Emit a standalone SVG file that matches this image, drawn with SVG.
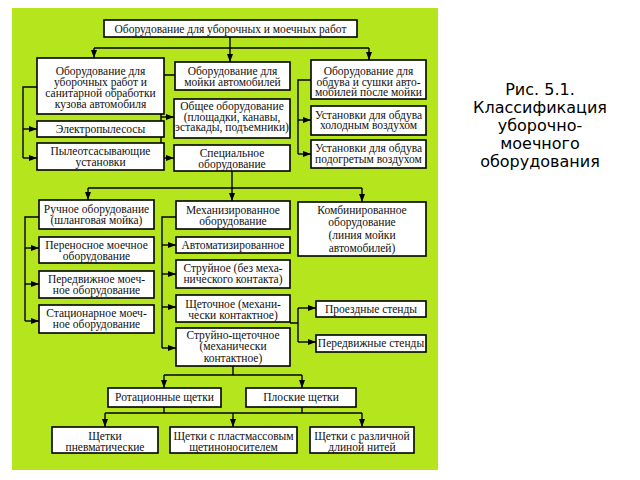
<svg xmlns="http://www.w3.org/2000/svg" width="640" height="480" viewBox="0 0 640 480">
<defs>
<style>
.bg{fill:#b5e61d}
.box{fill:#fff;stroke:#000;stroke-width:1.6}
.t{font-family:"Liberation Serif","Times New Roman",serif;font-size:11.5px;fill:#111;text-anchor:middle}
.cap{font-family:"DejaVu Sans",sans-serif;font-size:16px;fill:#000;text-anchor:middle}
.ln{fill:none;stroke:#000;stroke-width:1.4}
.ar{fill:none;stroke:#000;stroke-width:1.4;marker-end:url(#ah)}
</style>
<marker id="ah" viewBox="0 0 8 6" refX="8" refY="3" markerWidth="8" markerHeight="6" orient="auto" markerUnits="userSpaceOnUse"><path d="M0,0 L8,3 L0,6 z" fill="#000"/></marker>
</defs>
<rect class="bg" x="12" y="8" width="426" height="462"/>

<g id="connectors">
<path class="ln" d="M230,37 V48 M94,48 H369"/>
<path class="ar" d="M94,48 V58"/>
<path class="ar" d="M230,48 V62"/>
<path class="ar" d="M369,48 V60"/>
<path class="ln" d="M37,87 H23 V158"/>
<path class="ar" d="M23,129 H37"/>
<path class="ar" d="M23,158 H37"/>
<path class="ln" d="M175,75 H161 V158"/>
<path class="ar" d="M161,117 H174"/>
<path class="ar" d="M161,158 H174"/>
<path class="ln" d="M311,80 H298 V154"/>
<path class="ar" d="M298,120 H311"/>
<path class="ar" d="M298,154 H311"/>
<path class="ln" d="M232,171 V188 M88,188 H362"/>
<path class="ar" d="M88,188 V200"/>
<path class="ar" d="M232,188 V201"/>
<path class="ar" d="M362,188 V202"/>
<path class="ln" d="M39,217 H25 V321"/>
<path class="ar" d="M25,248 H39"/>
<path class="ar" d="M25,284 H39"/>
<path class="ar" d="M25,321 H39"/>
<path class="ln" d="M176,217 H162 V348"/>
<path class="ar" d="M162,245 H176"/>
<path class="ar" d="M162,274 H176"/>
<path class="ar" d="M162,307 H176"/>
<path class="ar" d="M162,348 H176"/>
<path class="ln" d="M290,323 H298 M298,308 V342"/>
<path class="ar" d="M298,308 H316"/>
<path class="ar" d="M298,342 H316"/>
<path class="ln" d="M233,366 V375 M164,375 H302"/>
<path class="ar" d="M164,375 V388"/>
<path class="ar" d="M302,375 V388"/>
<path class="ln" d="M164,407 V413 M302,407 V413 M105,413 H362"/>
<path class="ar" d="M105,413 V427"/>
<path class="ar" d="M233,413 V427"/>
<path class="ar" d="M362,413 V427"/>
</g>

<g id="n-top"><rect class="box" x="104" y="20" width="253" height="17"/><text class="t" x="230.5" y="32.5">Оборудование для уборочных и моечных работ</text></g>

<g id="n-a"><rect class="box" x="37" y="58" width="127" height="56"/>
<text class="t" x="100.5" y="74.5">Оборудование для</text>
<text class="t" x="100.5" y="85.5">уборочных работ и</text>
<text class="t" x="100.5" y="96.5">санитарной обработки</text>
<text class="t" x="100.5" y="107.5">кузова автомобиля</text></g>

<g id="n-b"><rect class="box" x="175" y="62" width="115" height="28"/>
<text class="t" x="232.5" y="74.5">Оборудование для</text>
<text class="t" x="232.5" y="85.5">мойки автомобилей</text></g>

<g id="n-c"><rect class="box" x="311" y="60" width="115" height="39"/>
<text class="t" x="368.5" y="74.5">Оборудование для</text>
<text class="t" x="368.5" y="85.5">обдува и сушки авто-</text>
<text class="t" x="368.5" y="96">мобилей после мойки</text></g>

<g id="n-vac"><rect class="box" x="37" y="121" width="127" height="16"/>
<text class="t" x="100.5" y="132.5">Электропылесосы</text></g>

<g id="n-dust"><rect class="box" x="37" y="143" width="127" height="27"/>
<text class="t" x="100.5" y="155">Пылеотсасывающие</text>
<text class="t" x="100.5" y="166">установки</text></g>

<g id="n-gen"><rect class="box" x="174" y="99" width="116" height="39"/>
<text class="t" x="232" y="110">Общее оборудование</text>
<text class="t" x="232" y="120.5">(площадки, канавы,</text>
<text class="t" x="232" y="131">эстакады, подъемники)</text></g>

<g id="n-spec"><rect class="box" x="174" y="145" width="116" height="26"/>
<text class="t" x="232" y="156.5">Специальное</text>
<text class="t" x="232" y="167.5">оборудование</text></g>

<g id="n-cold"><rect class="box" x="311" y="106" width="115" height="29"/>
<text class="t" x="368.5" y="118.5">Установки для обдува</text>
<text class="t" x="368.5" y="129">холодным воздухом</text></g>

<g id="n-warm"><rect class="box" x="311" y="140" width="115" height="28"/>
<text class="t" x="368.5" y="151.5">Установки для обдува</text>
<text class="t" x="368.5" y="163">подогретым воздухом</text></g>

<g id="n-manual"><rect class="box" x="39" y="200" width="115" height="29"/>
<text class="t" x="96.5" y="212.5">Ручное оборудование</text>
<text class="t" x="96.5" y="223.5">(шланговая мойка)</text></g>

<g id="n-port"><rect class="box" x="39" y="237" width="115" height="26"/>
<text class="t" x="96.5" y="248.5">Переносное моечное</text>
<text class="t" x="96.5" y="259.5">оборудование</text></g>

<g id="n-mob"><rect class="box" x="39" y="271" width="115" height="27"/>
<text class="t" x="96.5" y="282.5">Передвижное моеч-</text>
<text class="t" x="96.5" y="293.5">ное оборудование</text></g>

<g id="n-stat"><rect class="box" x="39" y="305" width="115" height="28"/>
<text class="t" x="96.5" y="317">Стационарное моеч-</text>
<text class="t" x="96.5" y="328">ное оборудование</text></g>

<g id="n-mech"><rect class="box" x="176" y="201" width="114" height="28"/>
<text class="t" x="233" y="213.5">Механизированное</text>
<text class="t" x="233" y="225">оборудование</text></g>

<g id="n-comb"><rect class="box" x="298" y="202" width="128" height="54"/>
<text class="t" x="362" y="213.5">Комбинированное</text>
<text class="t" x="362" y="226">оборудование</text>
<text class="t" x="362" y="239">(линия мойки</text>
<text class="t" x="362" y="251.5">автомобилей)</text></g>

<g id="n-auto"><rect class="box" x="176" y="237" width="114" height="16"/>
<text class="t" x="233" y="248.5">Автоматизированное</text></g>

<g id="n-jet"><rect class="box" x="176" y="260" width="114" height="28"/>
<text class="t" x="233" y="271.5">Струйное (без меха-</text>
<text class="t" x="233" y="283">нического контакта)</text></g>

<g id="n-brush"><rect class="box" x="176" y="295" width="114" height="27"/>
<text class="t" x="233" y="308">Щеточное (механи-</text>
<text class="t" x="233" y="319">чески контактное)</text></g>

<g id="n-jetbrush"><rect class="box" x="176" y="328" width="114" height="38"/>
<text class="t" x="233" y="338.5">Струйно-щеточное</text>
<text class="t" x="233" y="350">(механически</text>
<text class="t" x="233" y="361.5">контактное)</text></g>

<g id="n-drive"><rect class="box" x="316" y="301" width="110" height="16"/>
<text class="t" x="371" y="312.5">Проездные стенды</text></g>

<g id="n-movst"><rect class="box" x="316" y="335" width="110" height="17"/>
<text class="t" x="371" y="346.5">Передвижные стенды</text></g>

<g id="n-rot"><rect class="box" x="108" y="388" width="113" height="19"/>
<text class="t" x="164.5" y="401">Ротационные щетки</text></g>

<g id="n-flat"><rect class="box" x="246" y="388" width="110" height="19"/>
<text class="t" x="301" y="401">Плоские щетки</text></g>

<g id="n-pneu"><rect class="box" x="52" y="427" width="106" height="26"/>
<text class="t" x="105" y="439.5">Щетки</text>
<text class="t" x="105" y="450.5">пневматические</text></g>

<g id="n-plast"><rect class="box" x="170" y="427" width="127" height="26"/>
<text class="t" x="233.5" y="439.5">Щетки с пластмассовым</text>
<text class="t" x="233.5" y="450.5">щетиноносителем</text></g>

<g id="n-len"><rect class="box" x="310" y="427" width="104" height="26"/>
<text class="t" x="362" y="439.5">Щетки с различной</text>
<text class="t" x="362" y="450.5">длиной нитей</text></g>

<g id="caption">
<text class="cap" x="540" y="95">Рис. 5.1.</text>
<text class="cap" x="540" y="113">Классификация</text>
<text class="cap" x="540" y="131">уборочно-</text>
<text class="cap" x="540" y="149">моечного</text>
<text class="cap" x="540" y="167">оборудования</text>
</g>
</svg>
